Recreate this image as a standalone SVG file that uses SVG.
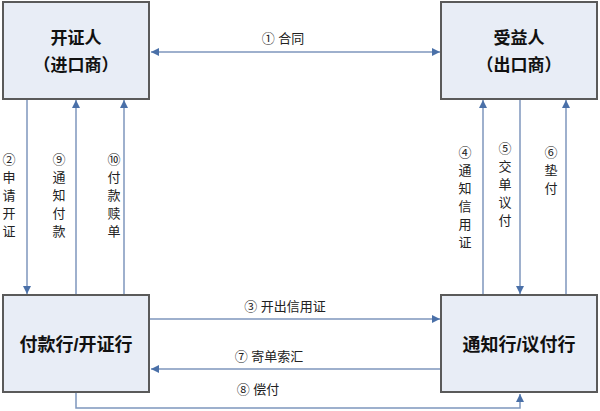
<svg xmlns="http://www.w3.org/2000/svg" width="600" height="411" viewBox="0 0 600 411">
<defs>
<marker id="ah" viewBox="0 0 10 10" refX="10" refY="5" markerWidth="10" markerHeight="8" markerUnits="userSpaceOnUse" orient="auto-start-reverse">
<path d="M0,0 L10,5 L0,10 Z" fill="#4a70a8"/>
</marker>
<style>
.box{fill:#e8edf6;stroke:#5a5a5a;stroke-width:2}
.t{font-family:"Liberation Sans","Noto Sans CJK SC",sans-serif;font-weight:bold;font-size:17px;fill:#111;text-anchor:middle}
.ln{fill:none;stroke:#7e96bd;stroke-width:1.5}
.lb{font-family:"Liberation Sans","Noto Sans CJK SC",sans-serif;font-size:13px;fill:#222;text-anchor:middle}
</style>
</defs>
<rect width="600" height="411" fill="#fff"/>
<g id="connectors">
<line class="ln" x1="151" y1="52" x2="440" y2="52" marker-start="url(#ah)" marker-end="url(#ah)"/>
<line class="ln" x1="27" y1="100" x2="27" y2="294" marker-end="url(#ah)"/>
<line class="ln" x1="76" y1="294" x2="76" y2="100" marker-end="url(#ah)"/>
<line class="ln" x1="124" y1="294" x2="124" y2="100" marker-end="url(#ah)"/>
<line class="ln" x1="483" y1="294" x2="483" y2="100" marker-end="url(#ah)"/>
<line class="ln" x1="520" y1="100" x2="520" y2="294" marker-end="url(#ah)"/>
<line class="ln" x1="566" y1="294" x2="566" y2="100" marker-end="url(#ah)"/>
<line class="ln" x1="150" y1="319" x2="440" y2="319" marker-end="url(#ah)"/>
<line class="ln" x1="441" y1="369" x2="151" y2="369" marker-end="url(#ah)"/>
<polyline class="ln" points="76,393 76,408 520,408 520,394" marker-end="url(#ah)"/>
<text class="lb" x="283" y="43">① 合同</text>
<text class="lb" x="285" y="311">③ 开出信用证</text>
<text class="lb" x="269" y="361">⑦ 寄单索汇</text>
<text class="lb" x="258" y="394">⑧ 偿付</text>
<text class="lb"><tspan x="9" y="164">②</tspan><tspan x="9" dy="18">申</tspan><tspan x="9" dy="18">请</tspan><tspan x="9" dy="18">开</tspan><tspan x="9" dy="18">证</tspan></text>
<text class="lb"><tspan x="59" y="164">⑨</tspan><tspan x="59" dy="18">通</tspan><tspan x="59" dy="18">知</tspan><tspan x="59" dy="18">付</tspan><tspan x="59" dy="18">款</tspan></text>
<text class="lb"><tspan x="114" y="164">⑩</tspan><tspan x="114" dy="18">付</tspan><tspan x="114" dy="18">款</tspan><tspan x="114" dy="18">赎</tspan><tspan x="114" dy="18">单</tspan></text>
<text class="lb"><tspan x="465" y="157">④</tspan><tspan x="465" dy="18">通</tspan><tspan x="465" dy="18">知</tspan><tspan x="465" dy="18">信</tspan><tspan x="465" dy="18">用</tspan><tspan x="465" dy="18">证</tspan></text>
<text class="lb"><tspan x="505" y="153">⑤</tspan><tspan x="505" dy="18">交</tspan><tspan x="505" dy="18">单</tspan><tspan x="505" dy="18">议</tspan><tspan x="505" dy="18">付</tspan></text>
<text class="lb"><tspan x="551" y="157">⑥</tspan><tspan x="551" dy="18">垫</tspan><tspan x="551" dy="18">付</tspan></text>
</g>
<g id="n1">
<rect class="box" x="3" y="2" width="146" height="97"/>
<text class="t" x="76" y="44">开证人</text>
<text class="t" x="76" y="71">（进口商）</text>
</g>
<g id="n2">
<rect class="box" x="441" y="2" width="156" height="97"/>
<text class="t" x="519" y="44">受益人</text>
<text class="t" x="519" y="71">（出口商）</text>
</g>
<g id="n3">
<rect class="box" x="3" y="295" width="146" height="97"/>
<text class="t" x="76" y="351" style="font-size:18px">付款行/开证行</text>
</g>
<g id="n4">
<rect class="box" x="441" y="295" width="156" height="97"/>
<text class="t" x="519" y="351" style="font-size:18px">通知行/议付行</text>
</g>
</svg>
